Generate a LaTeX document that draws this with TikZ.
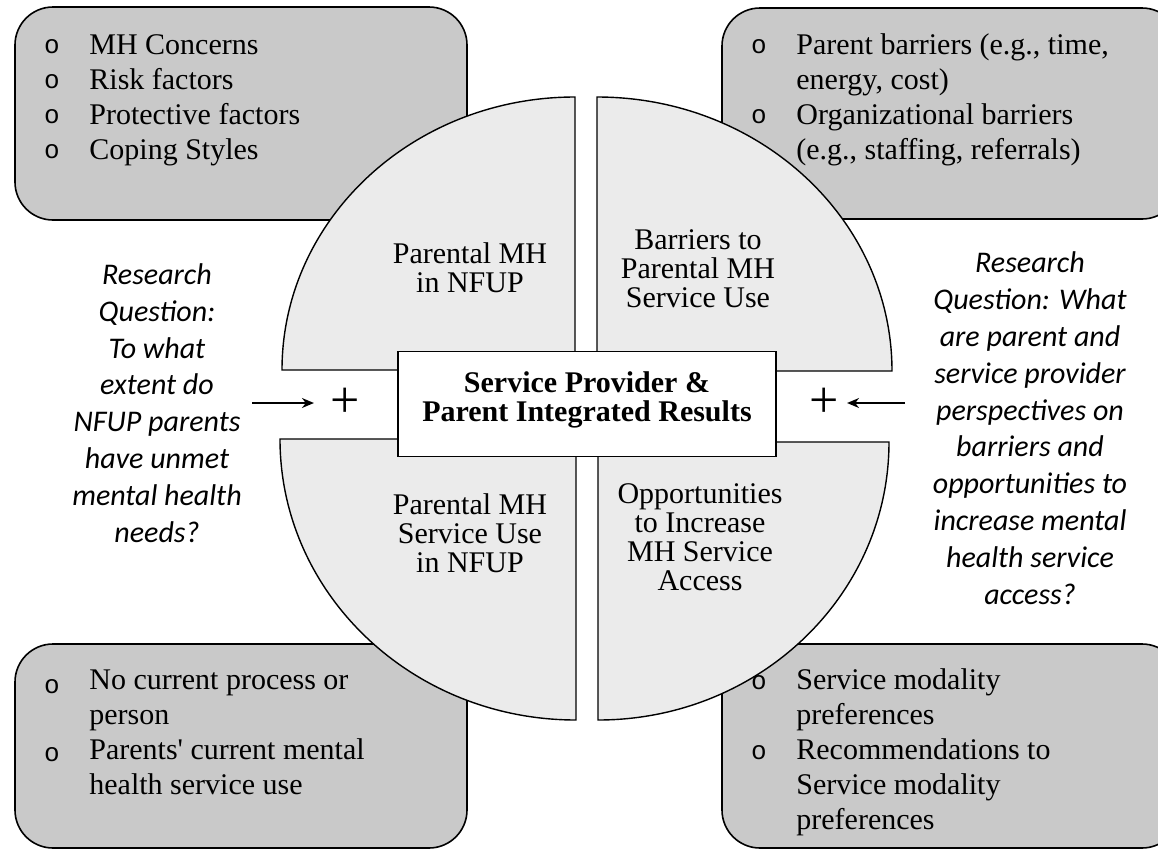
\documentclass[tikz,border=0pt]{standalone}
\usepackage{fontspec}
\setmainfont{Liberation Serif}
\setmonofont{Liberation Mono}
\newfontfamily\calibri{Carlito}
\usetikzlibrary{arrows.meta}

\definecolor{boxgrey}{gray}{0.79}
\definecolor{quadgrey}{gray}{0.92}

\tikzset{
  panel/.style={
    draw,
    line width=0.8pt,
    fill=boxgrey,
    rounded corners=19pt,
  },
  quarter/.style={
    draw,
    line width=0.7pt,
    fill=quadgrey,
  },
  quadtext/.style={
    anchor=base,
    align=center,
    inner sep=0pt,
    font=\fontsize{15}{14.5}\selectfont,
  },
  hub/.style={
    draw,
    line width=0.8pt,
    fill=white,
    align=center,
    minimum width=189pt,
    minimum height=52.5pt,
    font=\bfseries\fontsize{15}{14.5}\selectfont,
  },
  question/.style={
    anchor=base,
    align=center,
    inner sep=0pt,
    font=\calibri\itshape\fontsize{15}{18.4}\selectfont,
  },
  bullet/.style={
    inner sep=0pt,
    font=\ttfamily\fontsize{13}{13}\selectfont,
  },
  itemtext/.style={
    anchor=base west,
    align=left,
    inner sep=0pt,
    font=\fontsize{15}{17.5}\selectfont,
  },
  plus/.style={
    inner sep=0pt,
    font=\fontsize{26}{26}\selectfont,
  },
  pointer/.style={
    -{Stealth[length=6pt, width=5pt]},
    line width=0.8pt,
  },
}

\begin{document}
\begin{tikzpicture}[x=0.5pt, y=-0.5pt]
  \useasboundingbox (0,0) rectangle (1158,852);

  % grey panels in the corners
  \draw[panel] (15,7) rectangle (467,220);
  \draw[panel] (722,8) rectangle (1180,219);
  \draw[panel] (15,644) rectangle (467,848);
  \draw[panel] (722,644) rectangle (1180,848);

  % the four quarters
  \draw[quarter] (575,370) -- (282,370) arc[start angle=180, end angle=270, x radius=293, y radius=273] -- cycle;
  \draw[quarter] (597,371) -- (892,371) arc[start angle=0, end angle=-90, x radius=295, y radius=274] -- cycle;
  \draw[quarter] (576,439) -- (280,439) arc[start angle=180, end angle=90, x radius=296, y radius=281] -- cycle;
  \draw[quarter] (598,442) -- (889,442) arc[start angle=0, end angle=90, x radius=291, y radius=278] -- cycle;

  % base = last line
  \node[quadtext] (mh) at (470,292) {Parental MH\\in NFUP};
  \node[quadtext] (barriers) at (698,307) {Barriers to\\Parental MH\\Service Use};
  \node[quadtext] (use) at (470,572) {Parental MH\\Service Use\\in NFUP};
  \node[quadtext] (access) at (700,590) {Opportunities\\to Increase\\MH Service\\Access};

  \node[hub] (results) at (587,404) {Service Provider \&\\Parent Integrated Results\\[-7.5pt]};

  % research questions
  \node[question] (leftq) at (157,542) {Research\\Question:\\To what\\extent do\\NFUP parents\\have unmet\\mental health\\needs?};
  \node[question] (rightq) at (1030,604) {Research\\Question: What\\are parent and\\service provider\\perspectives on\\barriers and\\opportunities to\\increase mental\\health service\\access?};

  \node[plus] (lplus) at (345,403) {+};
  \node[plus] (rplus) at (824,403) {+};
  \coordinate (lfrom) at (252,403);
  \coordinate (rfrom) at (905,403);
  \draw[pointer, shorten >=8pt] (lfrom) -- (lplus);
  \draw[pointer, shorten >=4pt] (rfrom) -- (rplus);

  % lists
  \foreach \t [count=\i] in {MH Concerns, Risk factors, Protective factors, Coping Styles} {
    \node[bullet] (tlo\i) at (52,12+35*\i) {o};
    \node[itemtext] (tl\i) at (89,19+35*\i) {\t};
  }

  \node[bullet] (tro1) at (759,47) {o};
  \node[itemtext] (tr1) at (796,89) {Parent barriers (e.g., time,\\energy, cost)};
  \node[bullet] (tro2) at (759,117) {o};
  \node[itemtext] (tr2) at (796,159) {Organizational barriers\\(e.g., staffing, referrals)};

  \node[bullet] (blo1) at (52,687) {o};
  \node[itemtext] (bl1) at (89,724) {No current process or\\person};
  \node[bullet] (blo2) at (52,755) {o};
  \node[itemtext] (bl2) at (89,794) {Parents\textquotesingle{} current mental\\health service use};

  \node[bullet] (bro1) at (759,683) {o};
  \node[itemtext] (br1) at (796,724) {Service modality\\preferences};
  \node[bullet] (bro2) at (759,753) {o};
  \node[itemtext] (br2) at (796,829) {Recommendations to\\Service modality\\preferences};
\end{tikzpicture}
\end{document}
